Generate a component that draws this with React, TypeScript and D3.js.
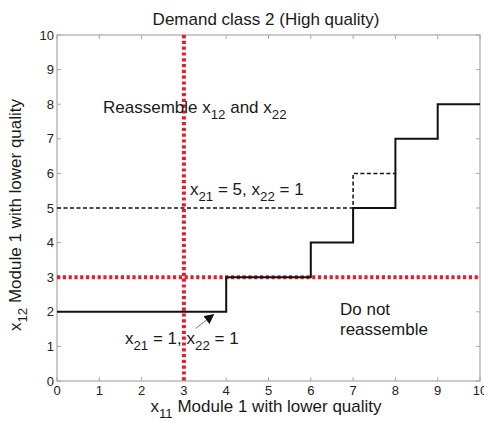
import React, { useRef, useEffect } from 'react';
import * as d3 from 'd3';

// step policy (solid) and alternative (dashed), drawn with curveStepAfter
const policyX = [0, 4, 6, 7, 8, 9, 10];
const policyY = [2, 3, 4, 5, 7, 8, 8];
const altX = [0, 7, 8];
const altY = [5, 6, 6];
const thresholdX = 3;
const thresholdY = 3;
const tickValues = [0, 1, 2, 3, 4, 5, 6, 7, 8, 9, 10];

const W = 484;
const H = 422;
const FONT = "'Liberation Sans', Arial, sans-serif";

type TextSel = d3.Selection<SVGTextElement, unknown, null, undefined>;

const App = () => {
  const ref = useRef<SVGSVGElement>(null);

  useEffect(() => {
    const svg = d3.select(ref.current);
    svg.selectAll('*').remove();

    const left = 57, right = 480, top = 35, bottom = 381;
    const x = d3.scaleLinear().domain([0, 10]).range([left, right]);
    const y = d3.scaleLinear().domain([0, 10]).range([bottom, top]);

    const g = svg.append('g').attr('font-family', FONT);

    // frame
    g.append('rect')
      .attr('x', left).attr('y', top)
      .attr('width', right - left).attr('height', bottom - top)
      .attr('fill', 'white').attr('stroke', '#a8a8a8').attr('stroke-width', 1.2);

    // ticks (inward) on all four sides
    const tl = 4;
    tickValues.forEach(v => {
      g.append('line').attr('x1', x(v)).attr('x2', x(v)).attr('y1', bottom).attr('y2', bottom - tl).attr('stroke', '#a8a8a8');
      g.append('line').attr('x1', x(v)).attr('x2', x(v)).attr('y1', top).attr('y2', top + tl).attr('stroke', '#a8a8a8');
      g.append('line').attr('x1', left).attr('x2', left + tl).attr('y1', y(v)).attr('y2', y(v)).attr('stroke', '#a8a8a8');
      g.append('line').attr('x1', right).attr('x2', right - tl).attr('y1', y(v)).attr('y2', y(v)).attr('stroke', '#a8a8a8');
    });

    g.append('g').selectAll('text').data(tickValues).join('text')
      .attr('x', d => x(d)).attr('y', bottom + 14)
      .attr('text-anchor', 'middle').attr('font-size', 13).attr('fill', '#222')
      .text(d => d);
    g.append('g').selectAll('text').data(tickValues).join('text')
      .attr('x', left - 3).attr('y', d => y(d) + 4.5)
      .attr('text-anchor', 'end').attr('font-size', 13).attr('fill', '#222')
      .text(d => d);

    // red dotted thresholds
    g.append('line')
      .attr('x1', x(thresholdX)).attr('x2', x(thresholdX)).attr('y1', top).attr('y2', bottom)
      .attr('stroke', '#e0202c').attr('stroke-width', 4).attr('stroke-dasharray', '3.2 2.6');
    g.append('line')
      .attr('x1', left).attr('x2', right).attr('y1', y(thresholdY)).attr('y2', y(thresholdY))
      .attr('stroke', '#e0202c').attr('stroke-width', 4).attr('stroke-dasharray', '3.2 2.6');

    const lineOf = (xs: number[], ys: number[]) =>
      d3.line<[number, number]>().x(d => x(d[0])).y(d => y(d[1])).curve(d3.curveStepAfter)(xs.map((v, i) => [v, ys[i]]));

    g.append('path').attr('d', lineOf(altX, altY))
      .attr('fill', 'none').attr('stroke', '#111').attr('stroke-width', 1.5).attr('stroke-dasharray', '4 2.5');
    g.append('path').attr('d', lineOf(policyX, policyY))
      .attr('fill', 'none').attr('stroke', '#111').attr('stroke-width', 2);

    // arrow
    svg.append('defs').append('marker')
      .attr('id', 'ah').attr('viewBox', '0 0 10 10').attr('refX', 9).attr('refY', 5)
      .attr('markerWidth', 10).attr('markerHeight', 10).attr('markerUnits', 'userSpaceOnUse')
      .attr('orient', 'auto')
      .append('path').attr('d', 'M0,0 L10,5 L0,10 z').attr('fill', '#111');
    g.append('line')
      .attr('x1', x(3.28)).attr('y1', y(1.52)).attr('x2', x(3.7)).attr('y2', y(1.92))
      .attr('stroke', '#777').attr('stroke-width', 1).attr('marker-end', 'url(#ah)');

    // text with subscripts
    const sub = (sel: TextSel, parts: [string, boolean][]) => {
      let down = false;
      parts.forEach(([t, s]) => {
        if (s) {
          sel.append('tspan').attr('dy', 6).attr('font-size', '0.78em').text(t);
          down = true;
        } else {
          sel.append('tspan').attr('dy', down ? -6 : 0).text(t);
          down = false;
        }
      });
    };
    const txt = (px: number, py: number, size: number) =>
      g.append('text').attr('x', px).attr('y', py).attr('font-size', size).attr('fill', '#1a1a1a') as unknown as TextSel;

    sub(txt(103, 113, 17), [['Reassemble x', false], ['12', true], [' and x', false], ['22', true]]);
    sub(txt(190, 195, 17), [['x', false], ['21', true], [' = 5, x', false], ['22', true], [' = 1', false]]);
    sub(txt(125, 344, 17), [['x', false], ['21', true], [' = 1, x', false], ['22', true], [' = 1', false]]);
    txt(340, 315, 17).text('Do not');
    txt(340, 335, 17).text('reassemble');

    // title
    g.append('text').attr('x', 266).attr('y', 25).attr('text-anchor', 'middle')
      .attr('font-size', 17).attr('fill', '#1a1a1a').text('Demand class 2 (High quality)');

    // x label
    const xl = g.append('text').attr('x', 266).attr('y', 412).attr('text-anchor', 'middle')
      .attr('font-size', 17).attr('fill', '#1a1a1a') as unknown as TextSel;
    sub(xl, [['x', false], ['11', true], [' Module 1 with lower quality', false]]);

    // y label
    const yl = g.append('text').attr('transform', `translate(21,215) rotate(-90)`)
      .attr('text-anchor', 'middle').attr('font-size', 17).attr('fill', '#1a1a1a') as unknown as TextSel;
    sub(yl, [['x', false], ['12', true], [' Module 1 with lower quality', false]]);
  }, []);

  return (
    <svg ref={ref} width={W} height={H}
      style={{ position: 'absolute', left: 0, top: 0, background: 'white' }} />
  );
};

export default App;
